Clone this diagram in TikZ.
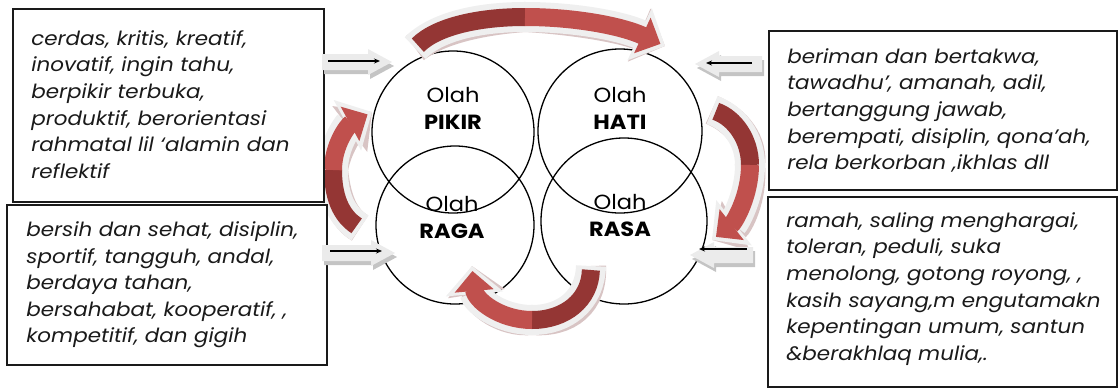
\documentclass[tikz,border=0pt]{standalone}
\usepackage{fontspec}
\setmainfont{Poppins}
\newfontfamily\boxfont[FakeStretch=1.1]{Poppins}
\usetikzlibrary{arrows.meta}
\definecolor{redL}{HTML}{C0504D}
\definecolor{redD}{HTML}{943634}
\definecolor{outl}{HTML}{EFEFEF}
\definecolor{shad}{HTML}{D8C4C4}
\definecolor{blk}{HTML}{1A1A1A}
\definecolor{barr}{HTML}{EBEBEB}
\definecolor{bshad}{HTML}{C4C4C4}
% block arrow: #1 tail x, #2 tip x, #3 centre y, #4 direction (+1 right, -1 left)
\newcommand{\blockarrowdraw}[4]{%
  \fill[bshad, xshift=2pt, yshift=-4pt] (#1,#3-8) -- ({#2-#4*24},#3-8) -- ({#2-#4*24},#3-13) -- (#2,#3) -- ({#2-#4*24},#3+13) -- ({#2-#4*24},#3+8) -- (#1,#3+8) -- cycle;
  \fill[barr] (#1,#3-8) -- ({#2-#4*24},#3-8) -- ({#2-#4*24},#3-13) -- (#2,#3) -- ({#2-#4*24},#3+13) -- ({#2-#4*24},#3+8) -- (#1,#3+8) -- cycle;
}
\begin{document}
\begin{tikzpicture}[x=1pt,y=-1pt,
  box/.style={draw=blk, line width=1.6pt, inner sep=0pt, fill=white},
  txt/.style={font=\boxfont\fontsize{19.5}{26.6}\selectfont\itshape, align=left, anchor=west, inner sep=0pt, text=blk},
  circ/.style={circle, draw=black, line width=1.3pt, inner sep=0pt},
  ctext/.style={font=\boxfont\fontsize{20.5}{27}\selectfont, align=center, inner sep=0pt},
  thin/.style={draw=black, line width=1.1pt, -{Stealth[length=6pt,width=5pt]}},
  arrout/.style={draw=outl, line width=30pt, -{Triangle[width=56pt,length=28pt]}},
  arrshad/.style={draw=shad, line width=30pt, -{Triangle[width=56pt,length=28pt]}},
  arrhead/.style={draw=redL, line width=18pt, shorten >=5pt, -{Triangle[width=38pt,length=20pt]}},
  arrtail/.style={draw=redD, line width=18pt, shorten <=4pt},
]
\useasboundingbox (0,0) rectangle (1120,389);

% circles
\node[circ, minimum size=162pt] (pikir) at (453,132) {};
\node[circ, minimum size=164pt] (hati) at (620,131) {};
\node[circ, minimum size=158pt] (raga) at (455,225) {};
\node[circ, minimum size=166pt] (rasa) at (624,221) {};
\node[ctext] (tpikir) at (453,108) {Olah\\\textbf{PIKIR}};
\node[ctext] (thati) at (620,108) {Olah\\\textbf{HATI}};
\node[ctext] (traga) at (452,217) {Olah\\\textbf{RAGA}};
\node[ctext] (trasa) at (620,215) {Olah\\\textbf{RASA}};

% curved arrows: coordinates
\coordinate (t0) at (415,48); \coordinate (tm) at (525,17); \coordinate (te) at (665,46);
\coordinate (r0) at (712,110); \coordinate (rm) at (750,165); \coordinate (re) at (712,240);
\coordinate (b0) at (591,266); \coordinate (bm) at (532,320); \coordinate (be) at (472,266);
\coordinate (l0) at (360,228); \coordinate (lm) at (333,170); \coordinate (le) at (372,112);

% shadows
\draw[arrshad, xshift=3pt, yshift=-3pt] (t0) .. controls (437,26) and (480,17) .. (tm) .. controls (575,17) and (622,26) .. (te);
\draw[arrshad, xshift=3pt, yshift=-3pt] (r0) .. controls (735,118) and (750,140) .. (rm) .. controls (750,195) and (735,222) .. (re);
\draw[arrshad, xshift=3pt, yshift=-3pt] (b0) .. controls (590,300) and (565,320) .. (bm) .. controls (500,320) and (475,300) .. (be);
\draw[arrshad, xshift=3pt, yshift=-3pt] (l0) .. controls (340,215) and (333,195) .. (lm) .. controls (333,145) and (348,125) .. (le);
% outlines
\draw[arrout] (t0) .. controls (437,26) and (480,17) .. (tm) .. controls (575,17) and (622,26) .. (te);
\draw[arrout] (r0) .. controls (735,118) and (750,140) .. (rm) .. controls (750,195) and (735,222) .. (re);
\draw[arrout] (b0) .. controls (590,300) and (565,320) .. (bm) .. controls (500,320) and (475,300) .. (be);
\draw[arrout] (l0) .. controls (340,215) and (333,195) .. (lm) .. controls (333,145) and (348,125) .. (le);
% red
\draw[arrtail] (t0) .. controls (437,26) and (480,17) .. (tm);
\draw[arrhead] (tm) .. controls (575,17) and (622,26) .. (te);
\draw[arrtail] (r0) .. controls (735,118) and (750,140) .. (rm);
\draw[arrhead] (rm) .. controls (750,195) and (735,222) .. (re);
\draw[arrtail] (b0) .. controls (590,300) and (565,320) .. (bm);
\draw[arrhead] (bm) .. controls (500,320) and (475,300) .. (be);
\draw[arrtail] (l0) .. controls (340,215) and (333,195) .. (lm);
\draw[arrhead] (lm) .. controls (333,145) and (348,125) .. (le);

% boxes
\node[box, minimum width=311pt, minimum height=193pt] (b1) at (168.5,105.5) {};
\node[box, minimum width=320pt, minimum height=160pt] (b2) at (167,285) {};
\node[box, minimum width=348pt, minimum height=159pt] (b3) at (943,110.5) {};
\node[box, minimum width=349pt, minimum height=190pt] (b4) at (942.5,292) {};

\node[txt] (x1) at ([xshift=19pt,yshift=1pt]b1.west) {cerdas, kritis, kreatif,\\inovatif, ingin tahu,\\berpikir terbuka,\\produktif, berorientasi\\rahmatal lil ‘alamin dan\\reflektif};
\node[txt] (x2) at ([xshift=20pt]b2.west) {bersih dan sehat, disiplin,\\sportif, tangguh, andal,\\berdaya tahan,\\bersahabat, kooperatif, ,\\kompetitif, dan gigih};
\node[txt] (x3) at ([xshift=19pt]b3.west) {beriman dan bertakwa,\\tawadhu’, amanah, adil,\\bertanggung jawab,\\berempati, disiplin, qona’ah,\\rela berkorban ,ikhlas dll};
\node[txt] (x4) at ([xshift=19pt,yshift=3pt]b4.west) {ramah, saling menghargai,\\toleran, peduli, suka\\menolong, gotong royong, ,\\kasih sayang,m engutamakn\\kepentingan umum, santun\\\&berakhlaq mulia,.};

% block arrows
\blockarrowdraw{322}{392}{62}{1}
\blockarrowdraw{322}{395}{253}{1}
\blockarrowdraw{762}{695}{64}{-1}
\blockarrowdraw{753}{690}{255}{-1}
\coordinate (a1s) at (328,61); \coordinate (a1e) at (380,61);
\coordinate (a2s) at (330,251); \coordinate (a2e) at (382,251);
\coordinate (a3s) at (752,63); \coordinate (a3e) at (706,63);
\coordinate (a4s) at (747,249); \coordinate (a4e) at (699,249);
\draw[thin] (a1s) -- (a1e);
\draw[thin] (a2s) -- (a2e);
\draw[thin] (a3s) -- (a3e);
\draw[thin] (a4s) -- (a4e);
\end{tikzpicture}
\end{document}
